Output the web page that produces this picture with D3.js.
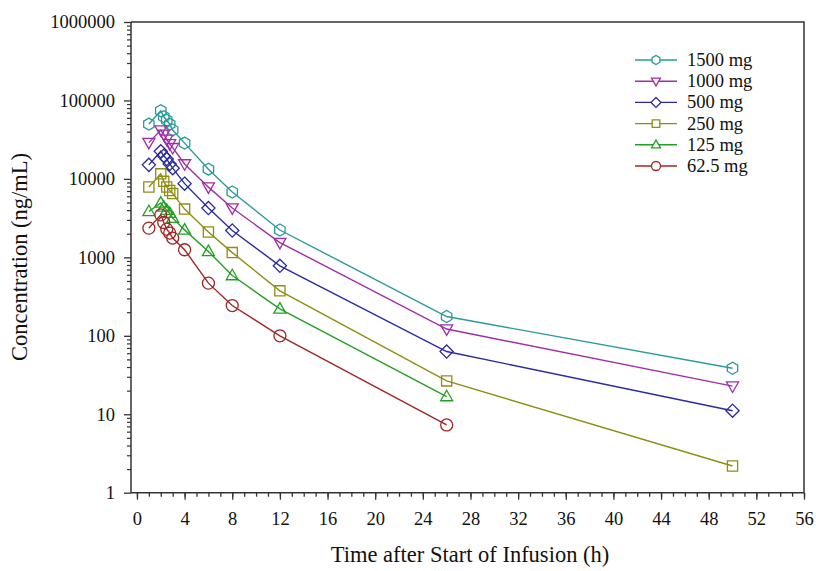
<!DOCTYPE html>
<html>
<head>
<meta charset="utf-8">
<script src="https://cdn.jsdelivr.net/npm/d3@7"></script>
<style>
  body { margin: 0; background: #fff; }
  svg { display: block; font-family: "Liberation Serif", "Times New Roman", serif; }
</style>
</head>
<body>
<svg id="chart" width="816" height="571"></svg>
<script>
// sampling times (h)
var times = [1, 2, 2.25, 2.5, 2.75, 3, 4, 6, 8, 12, 26, 50];

var doses = ['1500 mg', '1000 mg', '500 mg', '250 mg', '125 mg', '62.5 mg'];

var conc1500 = [50000, 74000, 62000, 56000, 50000, 42000, 28600, 13300, 6800, 2230, 176, 38.6];
var conc1000 = [29000, 42000, 37000, 32000, 28000, 25000, 15500, 7850, 4250, 1545, 122, 22.8];
var conc500 = [15100, 22500, 19700, 17900, 15500, 13700, 8700, 4250, 2200, 780, 63, 11.1];
var conc250 = [7900, 11600, 9300, 7900, 7100, 6500, 4120, 2100, 1150, 374, 26.6, 2.19];
var conc125 = [3840, 4950, 4400, 4000, 3650, 3160, 2240, 1190, 586, 220, 16.8];
var conc62 = [2360, 3480, 2780, 2290, 2040, 1760, 1250, 469, 243, 100, 7.3];

var xTicks = d3.range(0, 57, 4);
var yTicks = [1, 10, 100, 1000, 10000, 100000, 1000000];

var series = [
    { name: doses[0], values: conc1500, color: '#2b9a9a', shape: 'hexagon' },
    { name: doses[1], values: conc1000, color: '#a02ea6', shape: 'triDown' },
    { name: doses[2], values: conc500, color: '#2a2aa2', shape: 'diamond' },
    { name: doses[3], values: conc250, color: '#8e8e12', shape: 'square' },
    { name: doses[4], values: conc125, color: '#23a023', shape: 'triUp' },
    { name: doses[5], values: conc62, color: '#a02626', shape: 'circle' }
];

var svg = d3.select('#chart');
var pLeft = 131, pRight = 804, pTop = 22, pBottom = 492.7;

var x = d3.scaleLinear().domain([-0.5, 56]).range([pLeft, pRight]);
var y = d3.scaleLog().domain([1, 1000000]).range([pBottom, pTop]);

var axisColor = '#333';
var tickFont = 18.5;

// marker paths, centred on 0,0
function marker(shape, r) {
    var p;
    if (shape === 'circle') {
        return 'M' + r + ',0A' + r + ',' + r + ' 0 1,1 ' + (-r) + ',0A' + r + ',' + r + ' 0 1,1 ' + r + ',0Z';
    }
    if (shape === 'hexagon') {
        p = d3.range(6).map(function (i) {
            var a = Math.PI / 6 + i * Math.PI / 3;
            return [r * Math.cos(a), r * Math.sin(a)];
        });
    } else if (shape === 'square') {
        var s = r * 0.85;
        p = [[-s, -s], [s, -s], [s, s], [-s, s]];
    } else if (shape === 'diamond') {
        p = [[0, -r * 1.1], [r * 1.1, 0], [0, r * 1.1], [-r * 1.1, 0]];
    } else if (shape === 'triUp') {
        p = [[0, -r * 1.05], [r, r * 0.7], [-r, r * 0.7]];
    } else {
        p = [[0, r * 1.05], [r, -r * 0.7], [-r, -r * 0.7]];
    }
    return 'M' + p.map(function (d) { return d[0].toFixed(2) + ',' + d[1].toFixed(2); }).join('L') + 'Z';
}

// frame (top and right)
svg.append('path')
    .attr('d', 'M' + pLeft + ',' + pTop + 'H' + pRight + 'V' + pBottom)
    .attr('fill', 'none')
    .attr('stroke', axisColor)
    .attr('stroke-width', 1.5);

// x axis: minor ticks every hour, labels every 4
var xAxis = svg.append('g').attr('transform', 'translate(0,' + pBottom + ')');
xAxis.append('g')
    .call(d3.axisBottom(x).tickValues(d3.range(0, 57, 1)).tickSize(4).tickFormat(''))
    .call(function (g) { g.select('.domain').remove(); })
    .selectAll('line').attr('stroke', axisColor).attr('stroke-width', 1.3);
xAxis.append('g')
    .call(d3.axisBottom(x).tickValues(xTicks).tickSize(7).tickPadding(12))
    .call(function (g) {
        g.select('.domain').remove();
        g.selectAll('line').attr('stroke', axisColor).attr('stroke-width', 1.3);
        g.selectAll('text').attr('font-size', tickFont).attr('fill', '#111')
            .attr('font-family', '"Liberation Serif", serif');
    });
svg.append('line')
    .attr('x1', pLeft).attr('x2', pRight).attr('y1', pBottom).attr('y2', pBottom)
    .attr('stroke', axisColor).attr('stroke-width', 1.5);

// y axis: log with minor ticks
var minor = [];
for (var e = 0; e < 6; e++) {
    for (var k = 2; k <= 9; k++) minor.push(k * Math.pow(10, e));
}
var yAxis = svg.append('g').attr('transform', 'translate(' + pLeft + ',0)');
yAxis.append('g')
    .call(d3.axisLeft(y).tickValues(minor).tickSize(4).tickFormat(''))
    .call(function (g) { g.select('.domain').remove(); })
    .selectAll('line').attr('stroke', axisColor).attr('stroke-width', 1.2);
yAxis.append('g')
    .call(d3.axisLeft(y).tickValues(yTicks).tickSize(7).tickPadding(9).tickFormat(d3.format('d')))
    .call(function (g) {
        g.select('.domain').remove();
        g.selectAll('line').attr('stroke', axisColor).attr('stroke-width', 1.3);
        g.selectAll('text').attr('font-size', tickFont).attr('fill', '#111')
            .attr('font-family', '"Liberation Serif", serif');
    });
svg.append('line')
    .attr('x1', pLeft).attr('x2', pLeft).attr('y1', pTop).attr('y2', pBottom)
    .attr('stroke', axisColor).attr('stroke-width', 1.5);

// axis titles
svg.append('text')
    .attr('x', 470).attr('y', 562)
    .attr('text-anchor', 'middle')
    .attr('font-size', 22.5).attr('fill', '#111')
    .text('Time after Start of Infusion (h)');
svg.append('text')
    .attr('transform', 'translate(27,257) rotate(-90)')
    .attr('text-anchor', 'middle')
    .attr('font-size', 22.5).attr('fill', '#111')
    .text('Concentration (ng/mL)');

// series lines and markers
var line = d3.line()
    .x(function (d) { return x(d.t); })
    .y(function (d) { return y(d.v); });

series.forEach(function (s) {
    var pts = s.values.map(function (v, i) { return { t: times[i], v: v }; });
    var g = svg.append('g');
    g.append('path')
        .attr('d', line(pts))
        .attr('fill', 'none')
        .attr('stroke', s.color)
        .attr('stroke-width', 1.4);
    g.selectAll('path.pt')
        .data(pts)
        .enter()
        .append('path')
        .attr('class', 'pt')
        .attr('transform', function (d) { return 'translate(' + x(d.t) + ',' + y(d.v) + ')'; })
        .attr('d', marker(s.shape, 6))
        .attr('fill', 'none')
        .attr('stroke', s.color)
        .attr('stroke-width', 1.3);
});

// legend
var legend = svg.append('g');
series.forEach(function (s, i) {
    var ly = 60 + i * 21.2;
    legend.append('line')
        .attr('x1', 635).attr('x2', 677).attr('y1', ly).attr('y2', ly)
        .attr('stroke', s.color).attr('stroke-width', 1.4);
    legend.append('path')
        .attr('transform', 'translate(656,' + ly + ')')
        .attr('d', marker(s.shape, 4.5))
        .attr('fill', '#fff')
        .attr('stroke', s.color)
        .attr('stroke-width', 1.3);
    legend.append('text')
        .attr('x', 687).attr('y', ly + 6)
        .attr('font-size', 18.5).attr('fill', '#111')
        .text(s.name);
});
</script>
</body>
</html>
